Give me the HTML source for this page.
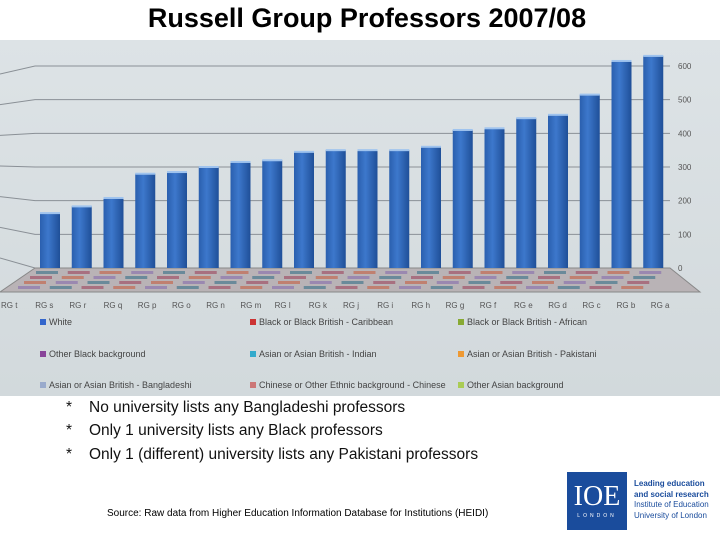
<!DOCTYPE html>
<html><head><meta charset="utf-8"><style>
body{margin:0;width:720px;height:540px;background:#fff;position:relative;overflow:hidden;font-family:"Liberation Sans",sans-serif}
.t{position:absolute;white-space:nowrap}
</style></head><body>
<div class="t" style="left:0;width:734px;text-align:center;top:3px;font-size:27px;font-weight:bold">Russell Group Professors 2007/08</div>
<svg id="chart" width="720" height="396" style="position:absolute;left:0;top:0">
<defs>
<linearGradient id="bg" x1="0" x2="0" y1="0" y2="1"><stop offset="0" stop-color="#dde3e6"/><stop offset="1" stop-color="#d2d9dc"/></linearGradient>
<linearGradient id="bar" x1="0" x2="1"><stop offset="0" stop-color="#2a5fae"/><stop offset="0.4" stop-color="#3d78cc"/><stop offset="1" stop-color="#1f4f98"/></linearGradient>
</defs>
<rect x="0" y="40" width="720" height="356" fill="url(#bg)"/>
<g id="grid"></g><g id="floor"></g><g id="bars"></g><g id="labels"></g>
</svg>
<div style="position:absolute;left:0;top:0;font-size:9px;color:#444">
<div class="t" style="left:40px;top:317px"><span style="display:inline-block;width:6px;height:6px;background:#3366cc;margin-right:3px"></span>White</div>
<div class="t" style="left:250px;top:317px"><span style="display:inline-block;width:6px;height:6px;background:#cc3333;margin-right:3px"></span>Black or Black British - Caribbean</div>
<div class="t" style="left:458px;top:317px"><span style="display:inline-block;width:6px;height:6px;background:#88aa33;margin-right:3px"></span>Black or Black British - African</div>
<div class="t" style="left:40px;top:349px"><span style="display:inline-block;width:6px;height:6px;background:#884499;margin-right:3px"></span>Other Black background</div>
<div class="t" style="left:250px;top:349px"><span style="display:inline-block;width:6px;height:6px;background:#33aacc;margin-right:3px"></span>Asian or Asian British - Indian</div>
<div class="t" style="left:458px;top:349px"><span style="display:inline-block;width:6px;height:6px;background:#ee9933;margin-right:3px"></span>Asian or Asian British - Pakistani</div>
<div class="t" style="left:40px;top:380px"><span style="display:inline-block;width:6px;height:6px;background:#99aacc;margin-right:3px"></span>Asian or Asian British - Bangladeshi</div>
<div class="t" style="left:250px;top:380px"><span style="display:inline-block;width:6px;height:6px;background:#cc7777;margin-right:3px"></span>Chinese or Other Ethnic background - Chinese</div>
<div class="t" style="left:458px;top:380px"><span style="display:inline-block;width:6px;height:6px;background:#aacc55;margin-right:3px"></span>Other Asian background</div>
</div>
<div style="position:absolute;left:0;top:0;font-size:15.5px;color:#111">
<div class="t" style="left:66px;top:399px">*</div>
<div class="t" style="left:89px;top:399px">No university lists any Bangladeshi professors</div>
<div class="t" style="left:66px;top:422px">*</div>
<div class="t" style="left:89px;top:422px">Only 1 university lists any Black professors</div>
<div class="t" style="left:66px;top:446px">*</div>
<div class="t" style="left:89px;top:446px">Only 1 (different) university lists any Pakistani professors</div>
</div>
<div class="t" style="left:107px;top:508px;font-size:10px">Source: Raw data from Higher Education Information Database for Institutions (HEIDI)</div>
<div style="position:absolute;left:567px;top:472px;width:60px;height:58px;background:#1a4c9c;color:#fff;text-align:center">
<div style="font-family:'Liberation Serif',serif;font-size:28px;line-height:32px;margin-top:9px">IOE</div>
<div style="font-size:5px;letter-spacing:3px">LONDON</div></div>
<div class="t" style="left:634px;top:479px;font-size:8px;line-height:10.5px;color:#1a4c9c"><b>Leading education<br>and social research</b><br>Institute of Education<br>University of London</div>
<script>
const categories=["RG t","RG s","RG r","RG q","RG p","RG o","RG n","RG m","RG l","RG k","RG j","RG i","RG h","RG g","RG f","RG e","RG d","RG c","RG b","RG a"];
const whiteValues=[163,183,208,280,285,300,315,320,345,350,350,350,360,410,415,445,455,515,615,630];
const yTicks=[0,100,200,300,400,500,600];
const NS="http://www.w3.org/2000/svg";
const y0=268,yPer=(268-66)/600;
const y=v=>y0-v*yPer;
const x=i=>40+i*31.75;
function el(t,a,p){const e=document.createElementNS(NS,t);for(const k in a)e.setAttribute(k,a[k]);p.appendChild(e);return e;}
const grid=document.getElementById('grid'),bars=document.getElementById('bars'),labels=document.getElementById('labels'),floor=document.getElementById('floor');
yTicks.forEach((t,k)=>{
 const yy=y(t);
 const g=el('polyline',{points:`0,${yy-10+k*3} 35,${yy} 670,${yy}`,fill:'none',stroke:'#8a9096','stroke-width':1},grid);
 
 const tx=el('text',{x:678,y:yy+3,'font-size':8,fill:'#555','font-family':'Liberation Sans, sans-serif'},labels);
 tx.textContent=t;
});
const fl=el('polygon',{points:'35,268 670,268 700,292 0,292',fill:'#b9b3b6',stroke:'#888'},floor);

const colors=['#6a8a9a','#a87080','#c08070','#9a88b0'];
for(let r=0;r<4;r++)categories.forEach((c,i)=>{
 const s=el('rect',{x:x(i)-4-r*6,y:271+r*5,width:22,height:3,fill:colors[(r+i)%4]},floor);
 
});
whiteValues.forEach((v,i)=>{
 const b=el('rect',{x:x(i),y:y(v),width:20,height:y0-y(v),fill:'url(#bar)'},bars);
 
 
 const cap=el('rect',{x:x(i),y:y(v)-1,width:20,height:2,fill:'#9fc3ee'},bars);
 
});
categories.forEach((c,i)=>{
 const tx=el('text',{x:1+i*34.2,y:308,'font-size':8,fill:'#555','font-family':'Liberation Sans, sans-serif'},labels);
 tx.textContent=c;
});
</script>
</body></html>
